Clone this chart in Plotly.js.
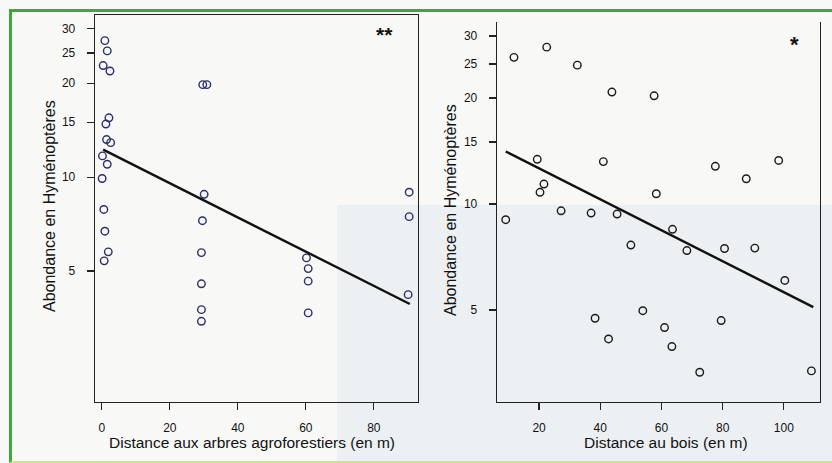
<!DOCTYPE html>
<html>
<head>
<meta charset="utf-8">
<script src="https://cdn.plot.ly/plotly-3.0.1.min.js"></script>
<style>
  html, body { margin:0; padding:0; width:832px; height:463px; overflow:hidden; background:#f8f9f7; }
  #tint { position:absolute; left:337px; top:205px; width:495px; height:258px; background:#ecf0f3; }
  #frame { position:absolute; left:9px; top:9px; width:830px; height:449px;
           border-left:3px solid #3ea83a; border-top:3px solid #3ea83a; border-bottom:2px solid #cfe48a; }
  #chart { position:absolute; left:0; top:0; width:832px; height:463px; }
</style>
</head>
<body>
<div id="tint"></div>
<div id="frame"></div>
<div id="chart"></div>
<script>
// Left panel: distance to agroforestry trees (m) vs Hymenoptera abundance
const leftX = [0.9, 1.6, 0.4, 2.4, 29.7, 30.9, 2.1, 1.2, 1.4, 2.6, 0.2, 1.6, 0.1, 30.1, 90.4,
               0.6, 29.6, 90.4, 0.9, 1.9, 0.7, 29.3, 60.2, 60.7, 60.7, 90.1, 29.3, 29.3, 29.3, 60.7];
const leftY = [27.4, 25.4, 22.8, 21.9, 19.8, 19.8, 15.5, 14.8, 13.2, 12.9, 11.7, 11.0, 9.9, 8.81, 8.95,
               7.88, 7.25, 7.47, 6.71, 5.76, 5.39, 5.73, 5.51, 5.09, 4.64, 4.20, 4.55, 3.76, 3.45, 3.67];
const leftFitX = [0.4, 90.6];
const leftFitY = [12.25, 3.92];

// Right panel: distance to woodland (m) vs Hymenoptera abundance
const rightX = [9.1, 11.8, 19.4, 20.3, 21.6, 22.5, 27.2, 32.5, 37.0, 41.0, 43.8, 45.5, 57.6, 58.3, 63.6,
                77.6, 87.7, 98.3, 50.0, 68.3, 80.6, 90.5, 100.3, 38.3, 42.7, 53.9, 61.0, 63.4, 72.5, 79.5, 109.0];
const rightY = [9.03, 26.1, 13.4, 10.8, 11.4, 27.9, 9.57, 24.8, 9.43, 13.2, 20.8, 9.37, 20.3, 10.7, 8.48,
                12.8, 11.8, 13.3, 7.65, 7.38, 7.48, 7.50, 6.07, 4.74, 4.14, 4.98, 4.46, 3.94, 3.33, 4.67, 3.36];
const rightFitX = [9.1, 109.6];
const rightFitY = [14.1, 5.10];

const yTicks = [5, 10, 15, 20, 25, 30];
const leftXTicks = [0, 20, 40, 60, 80];
const rightXTicks = [20, 40, 60, 80, 100];
const yTitle = "Abondance en Hyménoptères";
const leftXTitle = "Distance aux arbres agroforestiers (en m)";
const rightXTitle = "Distance au bois (en m)";
const leftSig = "**";
const rightSig = "*";

const W = 832, H = 463;
const px = v => v / W;
const py = v => 1 - v / H;

const FONT = "Liberation Sans, Arial, sans-serif";
const tickFont = { family: FONT, size: 12, color: "#111" };

const traces = [
  { x: leftX, y: leftY, xaxis: "x", yaxis: "y", mode: "markers", type: "scatter",
    marker: { symbol: "circle-open", size: 7.5, color: "#2b2d6a", line: { width: 1.4, color: "#2b2d6a" } } },
  { x: leftFitX, y: leftFitY, xaxis: "x", yaxis: "y", mode: "lines", type: "scatter",
    line: { color: "#111", width: 2.4 } },
  { x: rightX, y: rightY, xaxis: "x2", yaxis: "y2", mode: "markers", type: "scatter",
    marker: { symbol: "circle-open", size: 7.5, color: "#1a1a1a", line: { width: 1.4, color: "#1a1a1a" } } },
  { x: rightFitX, y: rightFitY, xaxis: "x2", yaxis: "y2", mode: "lines", type: "scatter",
    line: { color: "#111", width: 2.4 } }
];

const axBase = {
  showgrid: false, zeroline: false, showline: true, linecolor: "#222", linewidth: 1.3,
  ticks: "outside", ticklen: 7, tickwidth: 1.2, tickcolor: "#222", tickfont: tickFont, fixedrange: true
};

const layout = {
  width: W, height: H,
  margin: { l: 0, r: 0, t: 0, b: 0 },
  paper_bgcolor: "rgba(0,0,0,0)", plot_bgcolor: "rgba(0,0,0,0)",
  showlegend: false,
  xaxis: Object.assign({}, axBase, { domain: [px(95), px(418)], range: [-2, 93], tickvals: leftXTicks,
           mirror: true, anchor: "y", ticklabelstandoff: 7 }),
  yaxis: Object.assign({}, axBase, { domain: [py(402), py(15)], type: "log",
           range: [0.279, 1.52], tickvals: yTicks, ticktext: yTicks.map(String), mirror: true, anchor: "x",
           ticklabelstandoff: 9 }),
  xaxis2: Object.assign({}, axBase, { domain: [px(497), px(820)], range: [6.25, 111.8], tickvals: rightXTicks,
           mirror: false, anchor: "y2", ticklabelstandoff: 7 }),
  yaxis2: Object.assign({}, axBase, { domain: [py(402), py(22)], type: "log",
           range: [0.438, 1.517], tickvals: yTicks, ticktext: yTicks.map(String), mirror: true, anchor: "x2",
           ticklabelstandoff: 9 }),
  annotations: [
    { text: yTitle, xref: "paper", yref: "paper", x: px(50), y: py(206), textangle: -90, showarrow: false,
      font: { family: FONT, size: 16, color: "#111" }, xanchor: "center", yanchor: "middle" },
    { text: yTitle, xref: "paper", yref: "paper", x: px(450), y: py(210), textangle: -90, showarrow: false,
      font: { family: FONT, size: 16, color: "#111" }, xanchor: "center", yanchor: "middle" },
    { text: leftXTitle, xref: "paper", yref: "paper", x: px(252), y: py(442), showarrow: false,
      font: { family: FONT, size: 15.5, color: "#111" }, xanchor: "center", yanchor: "middle" },
    { text: rightXTitle, xref: "paper", yref: "paper", x: px(666), y: py(442), showarrow: false,
      font: { family: FONT, size: 15.5, color: "#111" }, xanchor: "center", yanchor: "middle" },
    { text: leftSig, xref: "x", yref: "y", x: 83.2, y: Math.log10(28.6), showarrow: false,
      font: { family: FONT, size: 21, color: "#111", weight: "bold" }, xanchor: "center", yanchor: "middle" },
    { text: rightSig, xref: "x2", yref: "y2", x: 103.5, y: Math.log10(28.4), showarrow: false,
      font: { family: FONT, size: 22, color: "#111", weight: "bold" }, xanchor: "center", yanchor: "middle" }
  ]
};

Plotly.newPlot("chart", traces, layout, { staticPlot: true, displayModeBar: false });
</script>
</body>
</html>
